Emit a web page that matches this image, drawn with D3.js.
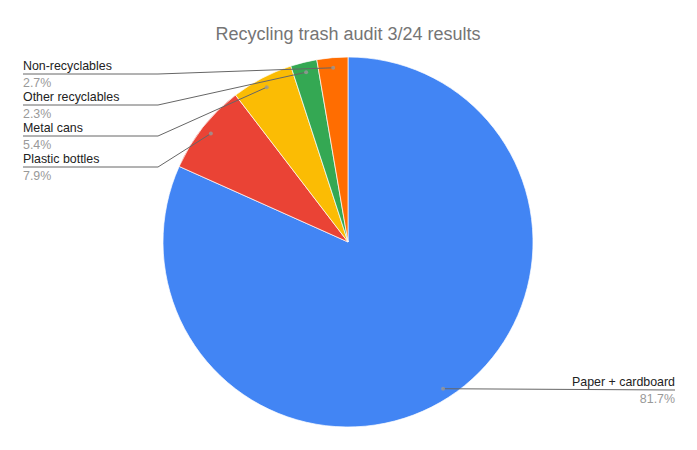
<!DOCTYPE html>
<html>
<head>
<meta charset="utf-8">
<script src="https://cdn.jsdelivr.net/npm/d3@7"></script>
<style>
  body { margin: 0; background: #fff; }
  svg { font-family: "Liberation Sans", Arial, sans-serif; }
</style>
</head>
<body>
<div id="chart"></div>
<script>
// data
const categories = ["Paper + cardboard", "Plastic bottles", "Metal cans", "Other recyclables", "Non-recyclables"];
const values = [81.7, 7.9, 5.4, 2.3, 2.7];
const colors = ["#4285f4", "#ea4335", "#fbbc04", "#34a853", "#ff6d01"];

const width = 697, height = 450;
const cx = 348, cy = 242, radius = 185;

const svg = d3.select("#chart").append("svg")
    .attr("width", width)
    .attr("height", height);

svg.append("text")
    .attr("x", cx)
    .attr("y", 40)
    .attr("text-anchor", "middle")
    .attr("font-size", 18)
    .attr("fill", "#757575")
    .text("Recycling trash audit 3/24 results");

const data = categories.map((c, i) => ({ name: c, value: values[i], color: colors[i] }));

const pie = d3.pie().sort(null).value(d => d.value);
const arcs = pie(data);
const arc = d3.arc().innerRadius(0).outerRadius(radius);
const dotArc = d3.arc().innerRadius(radius * 0.945).outerRadius(radius * 0.945);

const g = svg.append("g").attr("transform", `translate(${cx},${cy})`);

g.selectAll("path")
    .data(arcs)
    .enter()
    .append("path")
    .attr("d", arc)
    .attr("fill", d => d.data.color)
    .attr("stroke", "#fff")
    .attr("stroke-width", 0.7);

// label positions: right side for the big slice, stacked list on the left for the rest
const leftLabels = arcs.slice(1).reverse();
const labels = [];
labels.push({ a: arcs[0], side: "right", y: 390 });
leftLabels.forEach((a, i) => labels.push({ a: a, side: "left", y: 74 + i * 31 }));

const lg = svg.append("g");

labels.forEach(l => {
    const [dx, dy] = dotArc.centroid(l.a);
    const px = cx + dx, py = cy + dy;
    let pts;
    if (l.side === "right") {
        pts = [[px, py], [675, l.y]];
    } else {
        pts = [[px, py], [158, l.y], [23, l.y]];
    }
    lg.append("path")
        .attr("d", d3.line()(pts))
        .attr("fill", "none")
        .attr("stroke", "#666")
        .attr("stroke-width", 1);
    lg.append("circle")
        .attr("cx", px)
        .attr("cy", py)
        .attr("r", 2)
        .attr("fill", "#999")
        .attr("fill-opacity", 0.8);

    const tx = l.side === "right" ? 675 : 23;
    const anchor = l.side === "right" ? "end" : "start";
    lg.append("text")
        .attr("x", tx)
        .attr("y", l.y - 4)
        .attr("text-anchor", anchor)
        .attr("font-size", 12.4)
        .attr("fill", "#222")
        .text(l.a.data.name);
    lg.append("text")
        .attr("x", tx)
        .attr("y", l.y + 13)
        .attr("text-anchor", anchor)
        .attr("font-size", 12.4)
        .attr("fill", "#999")
        .text(d3.format(".1f")(l.a.data.value) + "%");
});
</script>
</body>
</html>
